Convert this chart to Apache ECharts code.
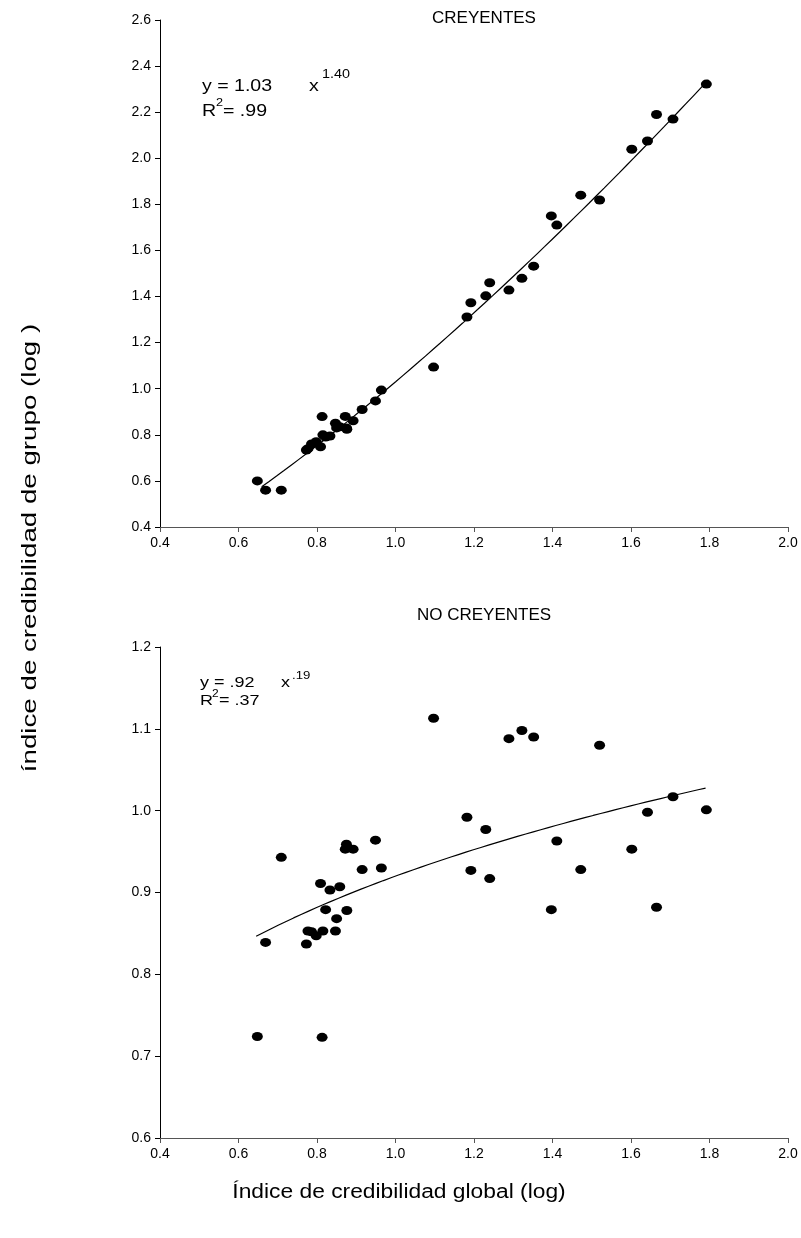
<!DOCTYPE html>
<html><head><meta charset="utf-8">
<script src="https://cdn.jsdelivr.net/npm/echarts@6/dist/echarts.min.js"></script>
<style>html,body{margin:0;padding:0;background:#fff}#c{width:801px;height:1238px}</style>
</head><body><div id="c"></div>
<script>
// Shared x values: Índice de credibilidad global (log)
const xGlobal = [0.648, 0.669, 0.709, 0.773, 0.777, 0.786, 0.798, 0.809, 0.813, 0.815, 0.822,
  0.833, 0.847, 0.850, 0.858, 0.872, 0.875, 0.876, 0.892, 0.915, 0.949, 0.964,
  1.097, 1.182, 1.192, 1.230, 1.240, 1.289, 1.322, 1.352, 1.397, 1.411, 1.472,
  1.520, 1.602, 1.642, 1.665, 1.707, 1.792];
// CREYENTES group index
const yCreyentes = [0.60, 0.56, 0.56, 0.734, 0.74, 0.76, 0.77, 0.748, 0.879, 0.80, 0.79,
  0.795, 0.85, 0.83, 0.835, 0.88, 0.83, 0.824, 0.861, 0.91, 0.947, 0.994,
  1.094, 1.311, 1.373, 1.403, 1.46, 1.428, 1.479, 1.532, 1.75, 1.71, 1.84,
  1.819, 2.039, 2.075, 2.19, 2.17, 2.322];
// NO CREYENTES group index
const yNoCreyentes = [0.724, 0.839, 0.943, 0.837, 0.853, 0.852, 0.847, 0.911, 0.723, 0.853, 0.879,
  0.903, 0.853, 0.868, 0.907, 0.953, 0.959, 0.878, 0.953, 0.928, 0.964, 0.930,
  1.113, 0.992, 0.927, 0.977, 0.917, 1.088, 1.098, 1.090, 0.879, 0.963, 0.928,
  1.080, 0.953, 0.998, 0.882, 1.017, 1.001];
// Power fits shown on the chart: y = a * x^b
const fitCreyentes = [1.03, 1.40];
const fitNoCreyentes = [0.92, 0.19];
const fitRangeCreyentes = [0.659, 1.797];
const fitRangeNoCreyentes = [0.645, 1.79];
// Axis ticks
const xTicks = [0.4, 2.0, 0.2];
const yTicksTop = [0.4, 2.6, 0.2];
const yTicksBottom = [0.6, 1.2, 0.1];

function fitCurve(f, r) {
  const pts = [];
  const n = 60;
  for (let i = 0; i <= n; i++) {
    const x = r[0] + (r[1] - r[0]) * i / n;
    pts.push([x, f[0] * Math.pow(x, f[1])]);
  }
  return pts;
}
const FF = '"Liberation Sans", Arial, sans-serif';
function xAxis(gi) {
  return {
    type: 'value', gridIndex: gi, min: xTicks[0], max: xTicks[1], interval: xTicks[2],
    axisLine: { show: true, onZero: false, lineStyle: { color: '#555', width: 1 } },
    axisTick: { show: true, length: 5, lineStyle: { color: '#555' } },
    axisLabel: { color: '#000', fontSize: 14, fontFamily: FF, margin: 9, formatter: v => v.toFixed(1) },
    splitLine: { show: false }
  };
}
function yAxis(gi, t) {
  return {
    type: 'value', gridIndex: gi, min: t[0], max: t[1], interval: t[2],
    axisLine: { show: true, onZero: false, lineStyle: { color: '#000', width: 1 } },
    axisTick: { show: true, length: 5, lineStyle: { color: '#000' } },
    axisLabel: { color: '#000', fontSize: 14, fontFamily: FF, margin: 9, formatter: v => v.toFixed(1) },
    splitLine: { show: false }
  };
}
const scatterStyle = { color: '#000', opacity: 1 };
function txt(x, y, s, size, sx, extra) {
  return Object.assign({ type: 'text', x: x, y: y, scaleX: sx || 1,
    style: { text: s, font: size + 'px ' + FF, fill: '#000', verticalAlign: 'middle', align: 'left' } }, extra || {});
}
const chart = echarts.init(document.getElementById('c'), null, { renderer: 'canvas' });
chart.setOption({
  backgroundColor: '#fff',
  animation: false,
  grid: [
    { left: 160, right: 13, top: 20, height: 507 },
    { left: 160, right: 13, top: 647, height: 491 }
  ],
  xAxis: [xAxis(0), xAxis(1)],
  yAxis: [yAxis(0, yTicksTop), yAxis(1, yTicksBottom)],
  series: [
    { type: 'scatter', xAxisIndex: 0, yAxisIndex: 0, symbol: 'circle', symbolSize: [11, 9], itemStyle: scatterStyle,
      data: xGlobal.map((x, i) => [x, yCreyentes[i]]) },
    { type: 'line', xAxisIndex: 0, yAxisIndex: 0, showSymbol: false, lineStyle: { color: '#000', width: 1.2 },
      data: fitCurve(fitCreyentes, fitRangeCreyentes) },
    { type: 'scatter', xAxisIndex: 1, yAxisIndex: 1, symbol: 'circle', symbolSize: [11, 9], itemStyle: scatterStyle,
      data: xGlobal.map((x, i) => [x, yNoCreyentes[i]]) },
    { type: 'line', xAxisIndex: 1, yAxisIndex: 1, showSymbol: false, lineStyle: { color: '#000', width: 1.2 },
      data: fitCurve(fitNoCreyentes, fitRangeNoCreyentes) }
  ],
  graphic: [
    { type: 'text', x: 484, y: 18, style: { text: 'CREYENTES', font: '17px ' + FF, fill: '#000', align: 'center', verticalAlign: 'middle' } },
    { type: 'text', x: 484, y: 615, style: { text: 'NO CREYENTES', font: '17px ' + FF, fill: '#000', align: 'center', verticalAlign: 'middle' } },
    txt(202, 86, 'y = 1.03', 17, 1.15),
    txt(309, 86, 'x', 17, 1.15),
    txt(322, 75, '1.40', 12, 1.2),
    txt(202, 111, 'R', 17, 1.15),
    txt(216, 103, '2', 11, 1.15),
    txt(223, 111, '= .99', 17, 1.15),
    txt(200, 683, 'y = .92', 15, 1.2),
    txt(281, 683, 'x', 15, 1.2),
    txt(292, 676, '.19', 11, 1.2),
    txt(200, 701, 'R', 15, 1.2),
    txt(212, 694, '2', 10, 1.2),
    txt(219, 701, '= .37', 15, 1.2),
    { type: 'text', x: 30, y: 548, rotation: Math.PI / 2, scaleX: 1.32,
      style: { text: 'índice de credibilidad de grupo (log )', font: '21px ' + FF, fill: '#000', align: 'center', verticalAlign: 'middle' } },
    { type: 'text', x: 399, y: 1192, scaleX: 1.14,
      style: { text: 'Índice de credibilidad global (log)', font: '20px ' + FF, fill: '#000', align: 'center', verticalAlign: 'middle' } }
  ]
});
</script></body></html>
